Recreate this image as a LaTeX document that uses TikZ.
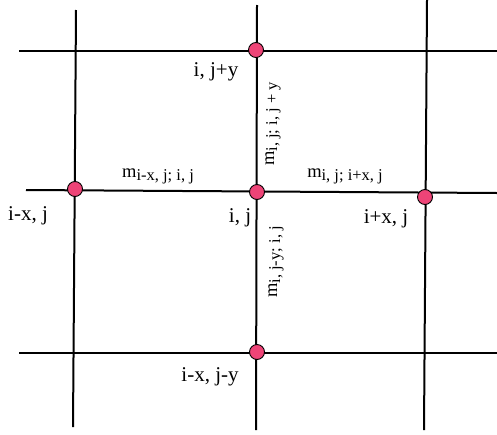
\documentclass[tikz,border=0pt]{standalone}
\usepackage{fontspec}
\setmainfont{Liberation Serif}
\usetikzlibrary{positioning}

\definecolor{sitepink}{RGB}{238,68,119}
\newcommand{\msg}[1]{m\raisebox{-0.35ex}{\fontsize{16.5}{16.5}\selectfont #1}}

\tikzset{
    site/.style={circle, draw, line width=0.9pt, fill=sitepink, inner sep=0pt, minimum size=15pt},
    grid line/.style={line width=2pt},
    lbl/.style={font=\fontsize{21}{21}\selectfont, inner sep=0pt},
    msglbl/.style={font=\fontsize{18.5}{18.5}\selectfont, inner sep=0pt}
}

\begin{document}
\begin{tikzpicture}[x=1pt, y=-1pt]
    \useasboundingbox (0,0) rectangle (497,434);

    % Line ends
    \coordinate (h1a) at (19,51);   \coordinate (h1b) at (497,51);
    \coordinate (h2a) at (26,190);  \coordinate (h2b) at (497,193);
    \coordinate (h3a) at (19,353);  \coordinate (h3b) at (497,353);
    \coordinate (v1a) at (76,10);   \coordinate (v1b) at (73,427);
    \coordinate (v2a) at (257,5);   \coordinate (v2b) at (256,430);
    \coordinate (v3a) at (427,0);   \coordinate (v3b) at (424,430);

    % Draw grid
    \draw[grid line] (h1a) -- (h1b);
    \draw[grid line] (h2a) -- (h2b);
    \draw[grid line] (h3a) -- (h3b);
    \draw[grid line] (v1a) -- (v1b);
    \draw[grid line] (v2a) -- (v2b);
    \draw[grid line] (v3a) -- (v3b);

    % Draw sites
    \node[site] (top) at (256,50) {};
    \node[site] (left) at (75,189) {};
    \node[site] (mid) at (257,192) {};
    \node[site] (right) at (425,197) {};
    \node[site] (bot) at (257,352) {};

    % Labels
    \node[lbl] (topl) at (216,72) {i, j+y};
    \node[lbl] (leftl) at (28,216) {i-x, j};
    \node[lbl] (midl) at (240,218) {i, j};
    \node[lbl] (rightl) at (386,219) {i+x, j};
    \node[lbl] (botl) at (210,377) {i-x, j-y};

    % Messages
    \node[msglbl] (mleft) at (158,176) {\msg{i-x, j; i, j}};
    \node[msglbl] (mright) at (345,176) {\msg{i, j; i+x, j}};
    \node[msglbl, rotate=90] (mup) at (273,124) {\msg{i, j; i, j + y}};
    \node[msglbl, rotate=90] (mdown) at (276,262) {\msg{i, j-y; i, j}};
\end{tikzpicture}
\end{document}
